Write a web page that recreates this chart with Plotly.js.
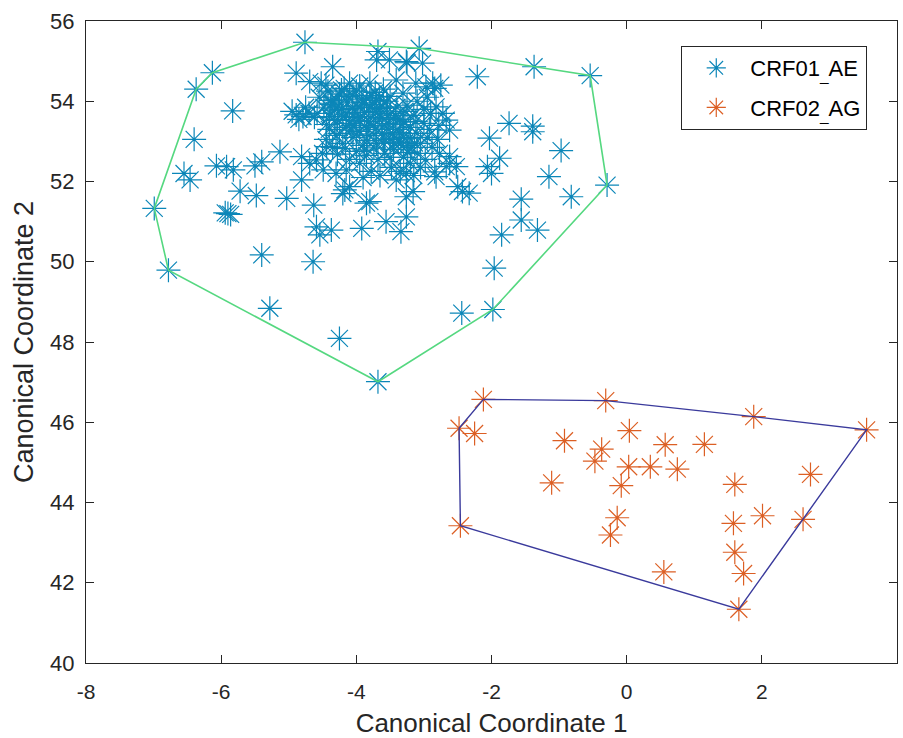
<!DOCTYPE html>
<html><head><meta charset="utf-8">
<script src="https://cdn.plot.ly/plotly-3.0.1.min.js"></script>
<style>html,body{margin:0;padding:0;background:#fff}#chart{width:903px;height:738px}</style>
</head><body><div id="chart"></div>
<script>
// CRF01_AE points (canonical coordinates)
const aeX = [
 -6.99,-6.78,-6.37,-6.13,-4.76,-3.07,-1.37,-0.54,-0.29,-1.98,-3.68,
 -5.83,-6.40,-6.55,-6.46,-6.07,-5.92,-5.82,-5.50,-5.40,-5.13,-5.72,-5.48,-5.03,-5.90,-5.94,-5.86,-5.40,-5.28,-4.25,-4.64,-4.63,-4.59,-4.54,-4.37,-4.81,-4.69,-4.59,-4.81,-4.44,-4.17,-4.49,-4.30,-4.15,-4.10,-4.20,-3.92,-3.56,-3.34,-3.26,-3.85,-3.80,-3.41,-3.26,-3.26,-3.16,
 -4.89,-4.69,-4.52,-4.35,-4.10,-3.68,-3.70,-3.51,-3.26,-3.02,-3.25,-2.97,-2.84,-2.75,-2.87,-3.41,-3.31,-3.12,-2.21,
 -2.82,-2.72,-2.67,-2.62,-2.77,-2.62,-2.67,-2.82,-2.52,-2.62,-2.50,-2.43,-2.33,-2.84,-2.03,-2.06,-2.00,-1.74,-1.39,-1.39,-1.88,-0.97,-1.15,-0.82,-1.56,-1.56,-1.32,-1.85,-1.96,-2.44,
 -4.89,-4.79,-4.95,-4.70,-4.85,-4.75,-4.62,
 -4.55,-4.42,-4.30,-4.18,-4.05,-3.95,-3.85,-3.72,-3.60,-3.50,-4.48,-4.36,-4.22,-4.12,-3.98,-3.88,-3.76,-3.64,-3.55,-4.58,-4.40,-4.28,-4.15,-4.02,-3.92,-4.25,-4.10,-3.82,-3.68,-4.45,-3.80,-4.00,-4.33,-3.70,
 -4.40,-4.30,-4.20,-4.35,-4.15,-4.05,-3.95,-3.90,-3.80,-3.75,-3.70,-3.62,-3.55,-3.50,-3.45,-3.40,-3.35,-3.30,-3.25,-3.20,-3.15,-3.10,-3.05,-3.00,-2.95,-2.90,-2.88,-3.58,-3.68,-3.85,-4.00,-4.10,-3.30,-3.20,-3.10,-2.98,-3.40,-3.25,-3.10,-3.00,-2.95,-3.50,-3.62,-4.25,-4.45,-4.50,-3.95,-3.48,-3.35,-3.15,-3.78,-3.90,-3.65,-3.05,-2.92,-3.18,-3.72,-3.85,-4.05,-3.45,-3.28,-3.60,-3.38,-3.12,-2.80,-2.78,
 -4.38,-4.26,-4.14,-4.02,-3.90,-3.78,-3.66,-3.54,-3.42,-3.30,-4.32,-4.20,-4.08,-3.96,-3.84,-3.72,-3.58,-3.46,-3.34,-3.22,-4.44,-4.28,-4.16,-4.00,-3.88,-3.74,-3.62,-3.50,-3.36,-3.24,-4.36,-4.22,-4.06,-3.94,-3.80,-3.66,-3.52,-3.44,-3.32,-3.14
];
const aeY = [
 51.33,49.79,54.30,54.71,55.47,55.32,54.86,54.64,51.91,48.81,47.01,
 53.76,53.05,52.20,52.04,52.39,52.37,52.29,52.39,52.49,52.74,51.76,51.65,51.58,51.20,51.22,51.18,50.17,48.84,48.09,50.00,51.41,50.87,50.67,50.79,52.62,52.45,52.54,52.04,52.87,51.79,52.29,52.20,52.29,51.87,51.70,50.83,51.00,50.75,51.12,51.46,51.50,52.04,52.20,51.62,51.75,
 54.70,54.49,54.45,54.86,54.45,55.24,55.03,55.03,54.99,54.95,54.96,54.36,54.32,54.40,54.45,54.53,54.20,54.45,54.61,
 53.86,53.70,53.53,53.28,52.70,52.62,52.37,52.12,52.37,52.45,51.87,51.75,51.71,52.24,53.08,52.37,52.20,53.45,53.38,53.24,52.58,52.77,52.12,51.62,51.56,51.04,50.79,50.67,49.84,48.72,
 53.66,53.62,53.75,53.70,53.55,53.85,53.60,
 54.10,54.25,54.05,54.32,54.15,54.38,54.08,54.22,54.30,54.12,53.85,53.95,53.80,53.98,53.88,53.72,53.92,53.82,54.00,53.70,53.62,53.55,53.68,53.60,54.05,54.18,53.45,53.50,53.58,54.40,54.45,54.25,53.78,54.02,
 53.30,53.15,52.95,52.85,53.35,53.10,53.25,52.90,53.15,53.40,52.95,53.20,53.45,53.05,52.80,53.30,53.55,53.10,52.90,53.35,53.65,53.20,52.95,53.45,53.10,53.70,52.85,52.70,52.55,52.65,52.75,52.55,52.60,52.45,52.70,52.55,53.85,53.90,54.00,53.80,54.10,53.70,53.60,53.20,53.05,52.70,52.45,52.35,52.25,52.15,52.25,52.10,52.15,52.35,53.30,52.85,53.75,53.35,53.40,53.55,53.75,52.95,52.98,53.50,53.05,53.40,
 54.02,53.88,54.12,53.72,53.96,54.14,53.68,53.86,53.64,53.48,53.52,53.62,53.28,53.52,53.02,53.30,53.06,53.18,52.96,53.08,53.42,52.68,52.82,53.18,52.78,52.84,53.36,52.60,53.22,52.72,53.92,54.28,53.82,53.62,53.84,54.10,53.30,52.96,53.42,52.96
];
// CRF02_AG points
const agX = [-2.12,-0.31,1.88,3.55,-2.48,-2.25,-0.92,0.04,-0.37,-0.47,0.57,1.15,0.03,0.35,0.75,-1.11,-0.08,1.60,2.72,-2.46,-0.14,-0.24,1.58,2.01,2.61,1.60,1.73,0.55,1.66];
const agY = [46.57,46.54,46.14,45.81,45.85,45.72,45.54,45.79,45.33,45.03,45.44,45.45,44.89,44.89,44.83,44.49,44.42,44.45,44.70,43.42,43.62,43.19,43.48,43.67,43.58,42.76,42.23,42.27,41.34];

const seriesNames = ['CRF01<sub>_</sub>AE', 'CRF02<sub>_</sub>AG'];
const xTickVals = [-8,-6,-4,-2,0,2,4];
const yTickVals = [40,42,44,46,48,50,52,54,56];

function convexHull(xs, ys) {
  const p = xs.map((x, i) => [x, ys[i]]).sort((a, b) => a[0] - b[0] || a[1] - b[1]);
  const cross = (o, a, b) => (a[0]-o[0])*(b[1]-o[1]) - (a[1]-o[1])*(b[0]-o[0]);
  const lower = [], upper = [];
  for (const q of p) { while (lower.length >= 2 && cross(lower[lower.length-2], lower[lower.length-1], q) <= 0) lower.pop(); lower.push(q); }
  for (let i = p.length - 1; i >= 0; i--) { const q = p[i]; while (upper.length >= 2 && cross(upper[upper.length-2], upper[upper.length-1], q) <= 0) upper.pop(); upper.push(q); }
  const h = lower.slice(0, -1).concat(upper.slice(0, -1));
  h.push(h[0]);
  return {x: h.map(v => v[0]), y: h.map(v => v[1])};
}

const hAE = convexHull(aeX, aeY);
const hAG = convexHull(agX, agY);

const blue = '#0b86b8', orange = '#dc5f24';
const data = [
  {x: aeX, y: aeY, type: 'scatter', mode: 'markers', name: seriesNames[0], legendgroup: 'a',
   marker: {symbol: 'asterisk-open', size: 20, color: blue, line: {color: blue, width: 1.2}}},
  {x: agX, y: agY, type: 'scatter', mode: 'markers', name: seriesNames[1], legendgroup: 'b',
   marker: {symbol: 'asterisk-open', size: 20, color: orange, line: {color: orange, width: 1.2}}},
  {x: hAE.x, y: hAE.y, type: 'scatter', mode: 'lines', showlegend: false, hoverinfo: 'skip', legendgroup: 'a',
   line: {color: '#55d880', width: 1.6}},
  {x: hAG.x, y: hAG.y, type: 'scatter', mode: 'lines', showlegend: false, hoverinfo: 'skip', legendgroup: 'b',
   line: {color: '#3a3a9c', width: 1.4}}
];

const axisCommon = {
  showline: true, linecolor: '#262626', linewidth: 1, mirror: 'allticks',
  ticks: 'inside', ticklen: 8, tickcolor: '#262626', tickwidth: 1,
  showgrid: false, zeroline: false, fixedrange: true
};

const layout = {
  width: 903, height: 738,
  margin: {l: 86, r: 6, t: 21, b: 75},
  paper_bgcolor: '#ffffff', plot_bgcolor: '#ffffff',
  font: {family: 'Liberation Sans, Arial, sans-serif', color: '#262626'},
  showlegend: true,
  xaxis: Object.assign({}, axisCommon, {
    range: [-8, 4], tickvals: xTickVals, ticktext: xTickVals.map(String),
    tickfont: {size: 21, color: '#262626'}, ticklabelstandoff: 10,
    title: {text: 'Canonical Coordinate 1', font: {size: 26, color: '#262626'}, standoff: 13}
  }),
  yaxis: Object.assign({}, axisCommon, {
    range: [40, 56], tickvals: yTickVals, ticktext: yTickVals.map(String),
    tickfont: {size: 22, color: '#262626'}, ticklabelstandoff: 6,
    title: {text: 'Canonical Coordinate 2', font: {size: 27, color: '#262626'}, standoff: 8}
  }),
  legend: {
    x: 0.734, y: 0.961, xanchor: 'left', yanchor: 'top',
    bgcolor: '#ffffff', bordercolor: '#262626', borderwidth: 1,
    font: {size: 22, color: '#000000', family: 'Liberation Sans, Arial, sans-serif'},
    itemwidth: 58, traceorder: 'grouped', tracegroupgap: 8
  }
};

Plotly.newPlot('chart', data, layout, {staticPlot: true, displayModeBar: false});
</script>
</body></html>
